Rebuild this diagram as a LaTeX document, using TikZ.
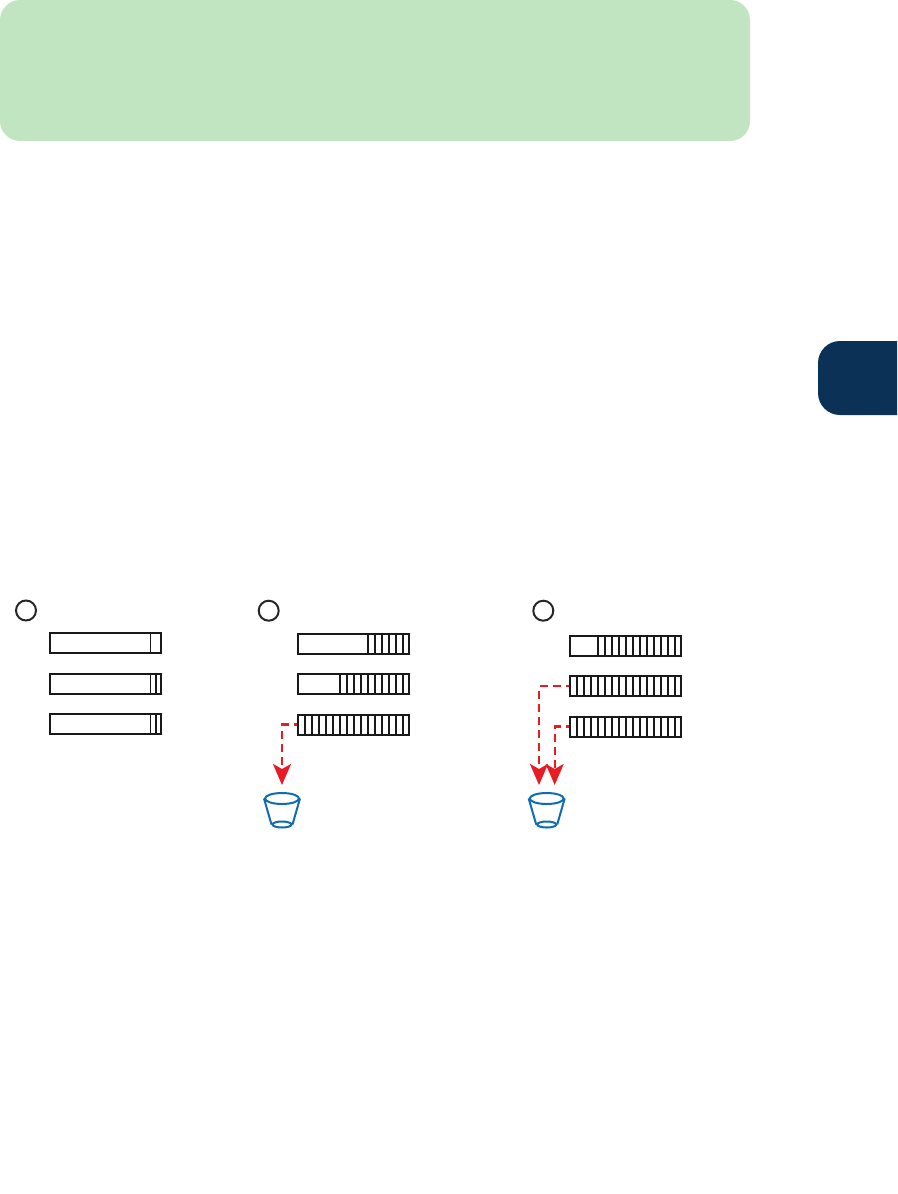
\documentclass[tikz,border=0pt]{standalone}
\usetikzlibrary{arrows.meta,shapes.geometric}
\definecolor{bannergreen}{HTML}{C1E4C1}
\definecolor{tabnavy}{HTML}{0B3157}
\definecolor{drainred}{HTML}{E91C24}
\definecolor{bucketblue}{HTML}{0F6CB0}
\begin{document}
\begin{tikzpicture}[
        x=1pt, y=-1pt,
        banner/.style={fill=bannergreen, rounded corners=20pt, minimum width=750pt, minimum height=141pt, inner sep=0pt},
        queue/.style={draw=black!90, line width=2pt, minimum width=111pt, minimum height=20pt, inner sep=0pt},
        stage/.style={draw=black!85, circle, line width=2pt, minimum size=20pt, inner sep=0pt},
        slot/.style={draw=black!90, line width=1.8pt},
        drain/.style={draw=drainred, line width=2.4pt, dash pattern=on 8pt off 5pt, dash phase=4.5pt, -{Stealth[length=21pt,width=18pt,inset=5pt,fill=drainred]}},
        rim/.style={draw=bucketblue, ellipse, line width=2pt, minimum width=34pt, minimum height=11pt, inner sep=0pt},
        base/.style={draw=bucketblue, ellipse, line width=2pt, minimum width=19pt, minimum height=6pt, inner sep=0pt},
        wall/.style={draw=bucketblue, line width=2pt}
    ]
        \useasboundingbox (0,0) rectangle (897,1194);

        % Banner and side tab
        \node[banner] (top) at (375,70.5) {};
        \fill[tabnavy] (897,341) [rounded corners=22pt] -- (818,341) -- (818,415) [sharp corners] -- (897,415) -- cycle;

        % Stage markers
        \node[stage] (S1) at (26,610.5) {};
        \node[stage] (S2) at (268.7,610.7) {};
        \node[stage] (S3) at (543.3,610.7) {};

        % Queues, first stage
        \node[queue] (A1) at (105.5,643) {};
        \node[queue] (A2) at (105.5,683.5) {};
        \node[queue] (A3) at (105.5,724) {};

        % Queues, second stage
        \node[queue] (B1) at (353.5,643.5) {};
        \node[queue] (B2) at (353.5,684) {};
        \node[queue] (B3) at (353.5,724.5) {};

        % Queues, third stage
        \node[queue] (C1) at (625.5,645.5) {};
        \node[queue] (C2) at (625.5,686) {};
        \node[queue] (C3) at (625.5,726.5) {};

        % Filled slots
        \draw[slot] ([xshift=-11.5pt]A1.north east) -- ([xshift=-11.5pt]A1.south east);
        \foreach \q in {A2,A3}
            \foreach \d in {6,11.5}
                \draw[slot] ([xshift=-\d pt]\q.north east) -- ([xshift=-\d pt]\q.south east);
        \foreach \q/\n in {B1/6,B2/10,B3/15,C1/12,C2/15,C3/15}
            \foreach \i in {1,...,\n} {
                \pgfmathsetmacro{\d}{\i*7}
                \draw[slot] ([xshift=-\d pt]\q.north east) -- ([xshift=-\d pt]\q.south east);
            }

        % Buckets
        \node[rim] (R2) at (282,798.5) {};
        \node[base] (U2) at (282,824.5) {};
        \draw[wall] (R2.west) -- (U2.west);
        \draw[wall] (R2.east) -- (U2.east);
        \node[rim] (R3) at (546.7,798.5) {};
        \node[base] (U3) at (546.7,824.5) {};
        \draw[wall] (R3.west) -- (U3.west);
        \draw[wall] (R3.east) -- (U3.east);

        % Drain arrows
        \coordinate (D1) at (282,785);
        \coordinate (D2) at (539,785);
        \coordinate (D3) at (554.7,785);
        \draw[drain] (B3.west) -| (D1);
        \draw[drain] (C2.west) -| (D2);
        \draw[drain] (C3.west) -| (D3);
    \end{tikzpicture}
\end{document}
